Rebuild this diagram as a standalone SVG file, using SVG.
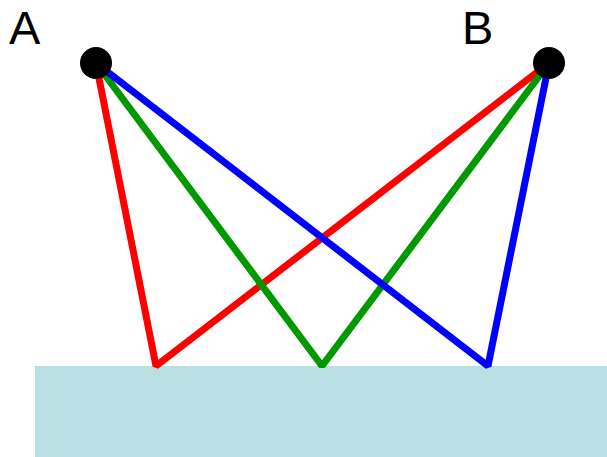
<svg xmlns="http://www.w3.org/2000/svg" width="607" height="457" viewBox="0 0 607 457">
<style>
.ray{fill:none;stroke-width:7;stroke-linejoin:bevel}
.lbl{font-family:"Liberation Sans",Arial,sans-serif;font-size:47px;fill:#000}
</style>
<rect width="607" height="457" fill="#fff"/>
<rect id="surface" x="35" y="366" width="572" height="91" fill="#b9dfe2"/>
<g id="connectors">
<polyline class="ray" stroke="#ff0000" points="96,63 156,366 549,63"/>
<polyline class="ray" stroke="#009900" points="96,63 322,366 549,63"/>
<polyline class="ray" stroke="#0000ff" points="96,63 488,366 549,63"/>
</g>
<g id="A"><circle cx="96" cy="63" r="16" fill="#000"/><text class="lbl" x="9" y="44">A</text></g>
<g id="B"><circle cx="549" cy="63" r="16" fill="#000"/><text class="lbl" x="462" y="44">B</text></g>
</svg>
